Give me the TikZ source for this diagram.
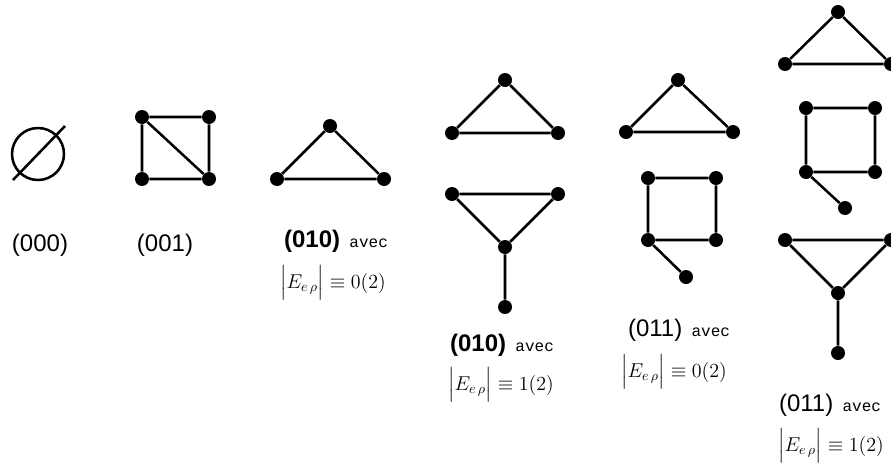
\RequirePackage{fix-cm}
\documentclass[tikz,border=0pt]{standalone}
\usepackage{amsmath}
\usepackage{fontspec}
\setmainfont{Liberation Sans}
\newfontfamily\avecfont{Liberation Mono}
\tikzset{
  vtx/.style={circle, fill=black, inner sep=0pt, minimum size=10.5pt},
  edge/.style={line width=1.9pt},
  lbl/.style={inner sep=0pt, font=\fontsize{18}{20}\selectfont},
  frm/.style={inner sep=0pt, font=\fontsize{15}{17}\selectfont},
}
\newcommand{\avecword}{{\avecfont\fontsize{12}{14}\selectfont avec}}
\newcommand{\eform}[1]{$\Bigl|E_{e\,\rho}\Bigr|\equiv #1(2)$}
\begin{document}
\begin{tikzpicture}[x=0.75pt,y=-0.75pt]
\useasboundingbox (0,0) rectangle (891,471);
\clip (0,0) rectangle (891,471);
% (000) empty set
\draw[line width=1.9pt] (38,154) circle (26);
\coordinate (s1) at (13,180);
\coordinate (s2) at (65,126);
\draw[line width=1.9pt] (s1) -- (s2);
\node[lbl] (l000) at (40,245) {(000)};
% (001) square with diagonal
\node[vtx] (a1) at (142,117) {};
\node[vtx] (a2) at (209,117) {};
\node[vtx] (a3) at (142,179) {};
\node[vtx] (a4) at (209,179) {};
\draw[edge] (a1) -- (a2) -- (a4) -- (a3) -- (a1) (a1) -- (a4);
\node[lbl] (l001) at (165,245) {(001)};
% (010) triangle
\node[vtx] (b1) at (330,126) {};
\node[vtx] (b2) at (277,179) {};
\node[vtx] (b3) at (384,179) {};
\draw[edge] (b1) -- (b2) -- (b3) -- (b1);
\node[lbl] (l010a) at (336,241) {\textbf{(010)}\hspace{7pt}\avecword};
\node[frm] (f010a) at (333,283) {\eform{0}};
% column 3
\node[vtx] (c1) at (505,80) {};
\node[vtx] (c2) at (452,133) {};
\node[vtx] (c3) at (558,133) {};
\draw[edge] (c1) -- (c2) -- (c3) -- (c1);
\node[vtx] (c4) at (452,194) {};
\node[vtx] (c5) at (558,194) {};
\node[vtx] (c6) at (505,247) {};
\node[vtx] (c7) at (505,307) {};
\draw[edge] (c4) -- (c5) -- (c6) -- (c4) (c6) -- (c7);
\node[lbl] (l010b) at (502,345) {\textbf{(010)}\hspace{7pt}\avecword};
\node[frm] (f010b) at (501,385) {\eform{1}};
% column 4
\node[vtx] (d1) at (678,80) {};
\node[vtx] (d2) at (626,132) {};
\node[vtx] (d3) at (733,132) {};
\draw[edge] (d1) -- (d2) -- (d3) -- (d1);
\node[vtx] (d4) at (648,178) {};
\node[vtx] (d5) at (716,178) {};
\node[vtx] (d6) at (648,240) {};
\node[vtx] (d7) at (716,240) {};
\node[vtx] (d8) at (686,277) {};
\draw[edge] (d4) -- (d5) -- (d7) -- (d6) -- (d4) (d6) -- (d8);
\node[lbl] (l011a) at (679,330) {(011)\hspace{7pt}\avecword};
\node[frm] (f011a) at (674,372) {\eform{0}};
% column 5
\node[vtx] (e1) at (838,12) {};
\node[vtx] (e2) at (785,64) {};
\node[vtx] (e3) at (891,64) {};
\draw[edge] (e1) -- (e2) -- (e3) -- (e1);
\node[vtx] (e4) at (806,108) {};
\node[vtx] (e5) at (875,108) {};
\node[vtx] (e6) at (806,172) {};
\node[vtx] (e7) at (875,172) {};
\node[vtx] (e8) at (845,208) {};
\draw[edge] (e4) -- (e5) -- (e7) -- (e6) -- (e4) (e6) -- (e8);
\node[vtx] (e9) at (785,240) {};
\node[vtx] (e10) at (891,240) {};
\node[vtx] (e11) at (838,293) {};
\node[vtx] (e12) at (838,353) {};
\draw[edge] (e9) -- (e10) -- (e11) -- (e9) (e11) -- (e12);
\node[lbl] (l011b) at (830,405) {(011)\hspace{7pt}\avecword};
\node[frm] (f011b) at (831,446) {\eform{1}};
\end{tikzpicture}
\end{document}
